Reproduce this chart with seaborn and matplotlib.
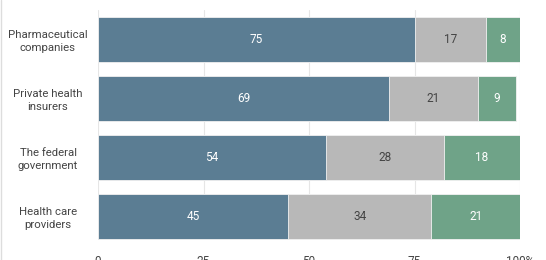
import matplotlib
matplotlib.use("Agg")
import matplotlib.pyplot as plt
import seaborn as sns
import numpy as np
import pandas as pd

categories = ["Pharmaceutical\ncompanies", "Private health\ninsurers",
              "The federal\ngovernment", "Health care\nproviders"]
blue_vals = [75, 69, 54, 45]
gray_vals = [17, 21, 28, 34]
green_vals = [8, 9, 18, 21]
xticks = [0, 25, 50, 75, 100]
xtick_labels = ["0", "25", "50", "75", "100%"]

c_blue = "#5b7d93"
c_gray = "#b8b8b8"
c_green = "#6fa388"

sns.set_theme(style="white")
plt.rcParams['font.family'] = ['Roboto', 'DejaVu Sans']

df = pd.DataFrame({"cat": categories, "blue": blue_vals, "gray": gray_vals, "green": green_vals})
df["c1"] = df["blue"]
df["c2"] = df["blue"] + df["gray"]
df["c3"] = df["c2"] + df["green"]

fig = plt.figure(figsize=(5.46, 2.6), dpi=100)
ax = fig.add_axes([98/546, 20/260, 422/546, 230/260])

for col, color in [("c3", c_green), ("c2", c_gray), ("c1", c_blue)]:
    sns.barplot(data=df, x=col, y="cat", color=color, width=0.76,
                edgecolor="#f2f2f2", linewidth=0.6, saturation=1, ax=ax, zorder=2)

fs = 8.5
for i, row in df.iterrows():
    ax.text(row["blue"] / 2, i, str(row["blue"]), ha="center", va="center",
            color="white", fontsize=fs, zorder=3)
    ax.text(row["blue"] + row["gray"] / 2, i, str(row["gray"]), ha="center", va="center",
            color="#444444", fontsize=fs, zorder=3)
    ax.text(row["c2"] + row["green"] / 2, i, str(row["green"]), ha="center", va="center",
            color="white", fontsize=fs, zorder=3)

ax.set_xlim(0, 100)
ax.set_ylim(3.4, -0.5)
ax.set_xticks(xticks)
ax.set_xticklabels(xtick_labels, color="#444444", fontsize=fs)
ax.tick_params(axis="x", length=0, pad=11)
ax.tick_params(axis="y", length=0, pad=36, labelsize=8.2, labelcolor="#444444")
for lab in ax.get_yticklabels():
    lab.set_horizontalalignment("center")
    lab.set_multialignment("center")
    lab.set_linespacing(1.3)
ax.set_xlabel("")
ax.set_ylabel("")
ax.grid(axis="x", color="#e6e6e6", linewidth=0.8, zorder=0)
ax.set_axisbelow(True)
for s in ax.spines.values():
    s.set_visible(False)

fig.add_artist(plt.Line2D([1/546, 1/546], [0, 1], color="#dddddd", linewidth=1, transform=fig.transFigure))

fig.savefig("out.png", dpi=100)
